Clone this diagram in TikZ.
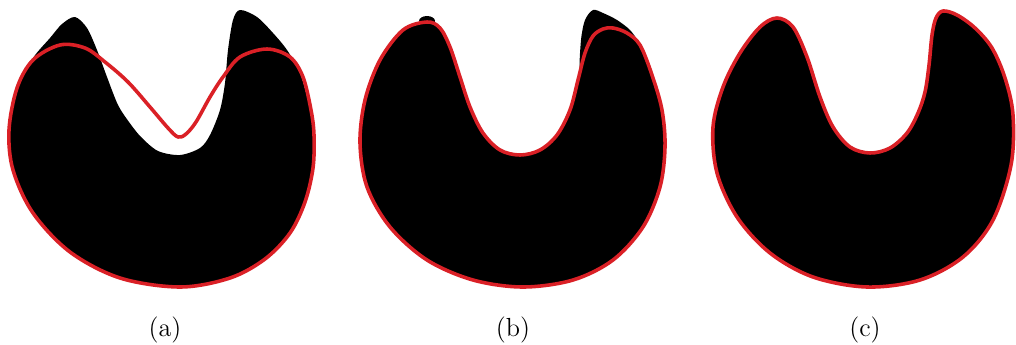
\documentclass[tikz,border=0pt]{standalone}
\definecolor{cred}{RGB}{218,32,38}
\begin{document}
\begin{tikzpicture}[x=0.42pt,y=-0.42pt,
  blob/.style={fill=black},
  contour/.style={draw=cred,line width=1.5pt,line join=round},
  lab/.style={font=\fontsize{11}{13}\selectfont,anchor=base,inner sep=0pt}]
\useasboundingbox (0,0) rectangle (1016,344);
% ---------- panel (a)
\fill[blob] plot[smooth cycle,tension=0.5] coordinates {
 (75,17) (87,28) (97,50) (107,77) (118,105) (129,122) (141,137) (158,151)
 (180,155) (200,148) (210,135) (220,110) (225,83) (228,50) (233,20) (240,10)
 (257,17) (273,33) (287,50) (300,73) (309,105) (314,135) (313,168)
 (305,202) (290,233) (265,259) (230,278) (180,287) (120,278) (70,252) (33,213) (13,170)
 (9,130) (17,88) (33,58) (50,38) (62,24)};
\draw[contour] plot[smooth cycle,tension=0.55] coordinates {
 (60,45) (85,48) (105,62) (128,82) (150,107) (168,128) (178,137) (186,134)
 (196,122) (210,97) (223,77) (240,57) (267,49) (290,57) (303,77) (311,110) (314,135)
 (313,168) (305,202) (290,233) (265,259) (230,278) (180,287) (120,278) (70,252)
 (33,213) (13,170) (9,130) (17,88) (33,60)};
% ---------- panel (b)
\fill[blob] plot[smooth cycle,tension=0.5] coordinates {
 (580,70) (581,40) (585,20) (593,10) (603,13) (617,20) (630,30) (636,40)
 (615,30) (600,32) (590,45)};
\fill[blob] (427,21) ellipse [x radius=8, y radius=5];
\filldraw[blob,contour] plot[smooth cycle,tension=0.55] coordinates {
 (427,22) (440,28) (450,47) (460,77) (470,107) (483,133) (500,150) (520,155)
 (540,150) (557,135) (570,110) (578,80) (585,53) (593,36) (603,29) (613,28)
 (627,33) (640,45) (652,75) (662,110) (665,147) (660,187) (643,227) (613,260)
 (573,280) (523,287) (473,280) (427,260) (390,227) (367,187) (360,143) (365,100)
 (380,60) (403,30)};
% ---------- panel (c)
\filldraw[blob,contour] plot[smooth cycle,tension=0.55] coordinates {
 (777,18) (793,27) (807,57) (820,97) (833,127) (850,147) (870,153) (890,148)
 (907,133) (918,113) (925,92) (929,65) (932,35) (936,18) (943,11) (957,15)
 (975,28) (992,48) (1005,78) (1013,115) (1011,165) (993,220) (963,257) (920,280)
 (867,287) (813,277) (770,253) (737,217) (717,173) (713,127) (723,87) (740,53)
 (760,27)};
% ---------- labels
\node[lab] (la) at (165,336) {(a)};
\node[lab] (lb) at (513,336) {(b)};
\node[lab] (lc) at (865,336) {(c)};
\end{tikzpicture}
\end{document}
